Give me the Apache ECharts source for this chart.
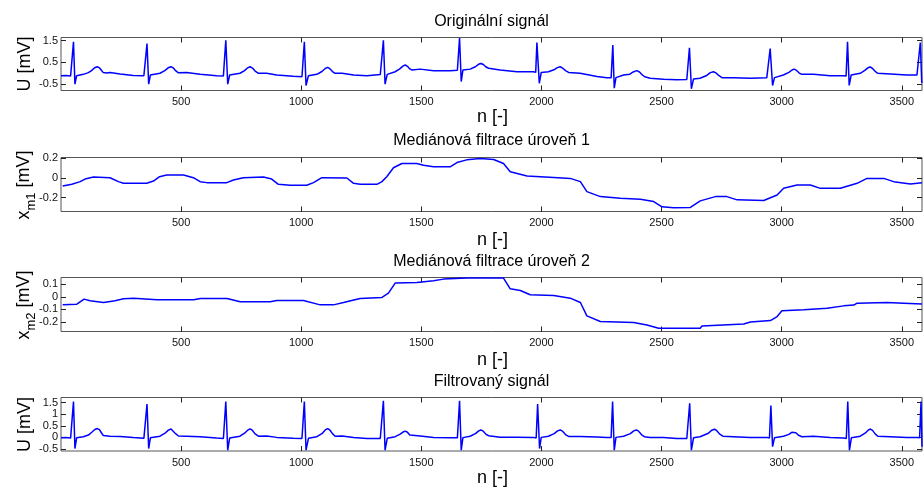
<!DOCTYPE html>
<html>
<head>
<meta charset="utf-8">
<script src="https://cdn.jsdelivr.net/npm/echarts@6/dist/echarts.min.js"></script>
<style>
html,body{margin:0;padding:0;background:#fff;}
#c{width:923px;height:487px;}
</style>
</head>
<body>
<div id="c"></div>
<script>
// ---- Data ----
const titles = ['Originální signál', 'Mediánová filtrace úroveň 1', 'Mediánová filtrace úroveň 2', 'Filtrovaný signál'];
const xLabel = 'n [-]';
const xTicks = [500, 1000, 1500, 2000, 2500, 3000, 3500];
const xRange = [0, 3584];

const yTicks1 = [-0.5, 0.5, 1.5];
const yTicks2 = [-0.2, 0, 0.2];
const yTicks3 = [-0.2, -0.1, 0, 0.1];
const yTicks4 = [-0.5, 0, 0.5, 1, 1.5];
const yRange1 = [-0.79, 1.64];
const yRange2 = [-0.341, 0.207];
const yRange3 = [-0.278, 0.156];
const yRange4 = [-0.586, 1.716];

// original ECG [n, mV]
const originalSignal = [
 [0,-0.11],[20,-0.10],[40,-0.12],[46,-0.16],[52,1.44],[58,-0.50],[65,-0.11],[93,-0.05],[114,0.03],[127,0.12],[140,0.25],[151,0.30],[160,0.25],[168,0.14],[176,0.03],[190,0.01],[204,0.03],[246,-0.03],[301,-0.10],[345,-0.11],
 [352,-0.14],[358,1.36],[365,-0.50],[372,-0.08],[412,0.0],[432,0.12],[446,0.25],[458,0.30],[467,0.25],[477,0.12],[489,0.02],[523,0.03],[579,-0.05],[648,-0.11],[676,-0.12],
 [681,-0.16],[686,1.51],[694,-0.50],[702,-0.08],[745,0.0],[764,0.12],[777,0.25],[787,0.30],[797,0.24],[808,0.10],[822,0.0],[856,0.0],[898,-0.08],[967,-0.14],[1003,-0.16],
 [1008,-0.19],[1013,1.44],[1020,-0.56],[1030,-0.11],[1065,-0.05],[1086,0.08],[1100,0.22],[1110,0.27],[1119,0.21],[1130,0.08],[1141,0.0],[1170,0.0],[1218,-0.08],[1273,-0.11],[1329,-0.06],
 [1336,-0.08],[1342,1.51],[1349,-0.50],[1358,-0.05],[1391,0.07],[1410,0.20],[1423,0.33],[1433,0.38],[1442,0.32],[1452,0.20],[1462,0.15],[1495,0.19],[1551,0.12],[1620,0.12],[1650,0.14],
 [1654,0.11],[1659,1.62],[1666,-0.38],[1673,0.15],[1703,0.19],[1725,0.30],[1738,0.41],[1748,0.45],[1758,0.40],[1768,0.30],[1780,0.23],[1828,0.15],[1898,0.07],[1967,0.07],
 [1976,0.04],[1981,1.41],[1991,-0.46],[1999,0.04],[2029,0.07],[2052,0.16],[2066,0.26],[2078,0.30],[2088,0.24],[2100,0.12],[2113,0.04],[2161,0.0],[2231,-0.15],[2272,-0.20],[2290,-0.21],
 [2292,-0.24],[2297,1.29],[2303,-0.68],[2310,-0.20],[2342,-0.08],[2368,-0.04],[2382,0.06],[2397,0.12],[2408,0.06],[2418,-0.06],[2430,-0.16],[2452,-0.23],[2508,-0.27],[2563,-0.30],[2605,-0.28],
 [2610,-0.31],[2616,1.17],[2624,-0.71],[2633,-0.26],[2660,-0.23],[2688,-0.10],[2703,0.03],[2716,0.07],[2726,0.02],[2738,-0.10],[2751,-0.20],[2799,-0.20],[2869,-0.23],[2938,-0.20],
 [2946,-0.23],[2952,1.13],[2962,-0.56],[2970,-0.20],[3007,-0.08],[3030,0.04],[3043,0.15],[3052,0.19],[3062,0.13],[3073,0.01],[3084,-0.05],[3132,-0.05],[3202,-0.11],[3257,-0.11],
 [3268,-0.13],[3274,1.44],[3281,-0.56],[3289,-0.08],[3327,0.0],[3346,0.13],[3359,0.25],[3368,0.29],[3377,0.23],[3388,0.10],[3399,0.0],[3452,-0.03],[3521,-0.08],[3563,-0.08],
 [3571,-0.11],[3577,1.41],[3583,-0.45]
];

// median filter level 1 [n, mV]
const medianLevel1 = [
 [7,-0.082],[45,-0.065],[80,-0.038],[100,-0.012],[135,0.009],[204,0.002],[239,-0.038],[260,-0.055],[357,-0.055],[385,-0.032],[410,0.012],[440,0.029],[510,0.029],
 [551,0.002],[579,-0.038],[607,-0.048],[690,-0.048],[718,-0.022],[759,0.002],[843,0.009],[877,-0.012],[905,-0.065],[954,-0.075],[1023,-0.075],[1051,-0.048],
 [1086,0.002],[1190,-0.001],[1218,-0.055],[1245,-0.065],[1315,-0.065],[1336,-0.038],[1356,0.012],[1384,0.103],[1419,0.146],[1481,0.146],[1509,0.129],[1551,0.113],
 [1620,0.113],[1648,0.156],[1689,0.183],[1745,0.197],[1801,0.187],[1842,0.146],[1870,0.062],[1940,0.019],[2051,0.005],[2120,-0.005],[2162,-0.038],[2189,-0.139],
 [2245,-0.19],[2328,-0.206],[2412,-0.216],[2467,-0.24],[2502,-0.294],[2550,-0.304],[2620,-0.30],[2661,-0.233],[2724,-0.19],[2772,-0.19],[2814,-0.223],[2925,-0.23],
 [2981,-0.173],[3008,-0.106],[3064,-0.072],[3119,-0.072],[3161,-0.106],[3244,-0.106],[3314,-0.055],[3355,-0.005],[3425,-0.005],[3466,-0.038],[3536,-0.062],[3584,-0.05]
];

// median filter level 2 (baseline) [n, mV]
const medianLevel2 = [
 [7,-0.064],[66,-0.058],[96,-0.018],[121,-0.031],[177,-0.045],[225,-0.031],[260,-0.015],[302,-0.010],[400,-0.023],[552,-0.023],[580,-0.012],[691,-0.012],
 [746,-0.039],[871,-0.039],[898,-0.029],[1009,-0.029],[1079,-0.064],[1134,-0.064],[1176,-0.045],[1245,-0.012],[1336,-0.004],[1363,0.030],[1391,0.111],
 [1481,0.116],[1551,0.130],[1592,0.143],[1689,0.151],[1842,0.151],[1870,0.065],[1912,0.052],[1953,0.017],[2051,0.012],[2120,-0.010],[2162,-0.045],
 [2189,-0.152],[2245,-0.198],[2384,-0.206],[2439,-0.225],[2488,-0.252],[2661,-0.252],[2668,-0.233],[2842,-0.217],[2870,-0.201],[2953,-0.190],[2981,-0.158],
 [3001,-0.112],[3092,-0.104],[3189,-0.091],[3258,-0.072],[3300,-0.066],[3314,-0.050],[3439,-0.045],[3508,-0.050],[3584,-0.056]
];

// filtered ECG [n, mV]
const filteredSignal = [
 [0,-0.02],[20,-0.01],[40,-0.03],[46,-0.07],[52,1.54],[58,-0.48],[65,-0.02],[93,0.03],[114,0.10],[128,0.22],[141,0.34],[151,0.38],[160,0.33],[168,0.20],[176,0.08],[204,0.05],[246,0.04],[301,-0.01],[345,-0.04],
 [352,-0.06],[358,1.43],[365,-0.48],[372,-0.02],[412,0.05],[433,0.18],[447,0.31],[458,0.36],[466,0.31],[477,0.16],[489,0.06],[523,0.05],[579,0.03],[648,-0.03],[676,-0.05],
 [681,-0.07],[686,1.54],[694,-0.55],[702,-0.03],[745,0.05],[764,0.18],[777,0.31],[787,0.37],[796,0.31],[808,0.15],[822,0.05],[856,0.06],[898,0.0],[967,-0.04],[1003,-0.05],
 [1008,-0.07],[1013,1.54],[1020,-0.55],[1030,-0.04],[1065,0.03],[1086,0.16],[1100,0.32],[1110,0.38],[1119,0.32],[1130,0.16],[1141,0.05],[1170,0.06],[1218,0.0],[1273,-0.05],[1329,-0.05],
 [1336,-0.07],[1342,1.57],[1349,-0.55],[1358,-0.04],[1391,0.03],[1410,0.13],[1424,0.23],[1433,0.27],[1442,0.22],[1452,0.10],[1460,0.03],[1495,0.06],[1551,0.0],[1620,-0.02],[1650,-0.02],
 [1654,-0.04],[1659,1.57],[1666,-0.55],[1673,-0.01],[1703,0.05],[1725,0.16],[1739,0.28],[1748,0.32],[1757,0.27],[1768,0.14],[1780,0.07],[1828,0.01],[1898,0.01],[1967,0.0],
 [1978,-0.03],[1984,1.43],[1992,-0.48],[1999,0.0],[2029,0.05],[2053,0.16],[2067,0.28],[2078,0.32],[2087,0.27],[2100,0.12],[2113,0.04],[2161,0.04],[2231,0.02],[2272,0.0],[2290,-0.01],
 [2291,-0.03],[2296,1.54],[2303,-0.55],[2310,0.0],[2342,0.05],[2370,0.16],[2384,0.28],[2395,0.32],[2404,0.27],[2416,0.12],[2428,0.03],[2452,0.0],[2508,-0.01],[2563,-0.05],[2605,-0.05],
 [2611,-0.06],[2617,1.47],[2624,-0.55],[2633,-0.02],[2660,0.03],[2695,0.18],[2709,0.31],[2720,0.35],[2729,0.30],[2742,0.14],[2755,0.05],[2799,0.03],[2869,0.0],[2938,0.0],
 [2949,-0.03],[2955,1.37],[2962,-0.40],[2970,-0.02],[3007,0.05],[3030,0.13],[3042,0.22],[3050,0.25],[3059,0.20],[3070,0.09],[3084,0.03],[3132,0.05],[3202,0.0],[3257,-0.03],
 [3269,-0.05],[3275,1.54],[3282,-0.55],[3290,-0.02],[3327,0.05],[3347,0.18],[3360,0.31],[3369,0.36],[3378,0.30],[3390,0.14],[3400,0.05],[3452,0.03],[3521,0.0],[3563,0.0],
 [3574,-0.02],[3580,1.54],[3584,-0.40]
];

// ---- Chart ----
const FONT = 'Liberation Sans, Arial, sans-serif';
const AX = '#222';
const gridsPos = [
  {top: 37.5, height: 53},
  {top: 157.5, height: 54},
  {top: 277.5, height: 54},
  {top: 397.5, height: 53.5}
];
const yTicksAll = [yTicks1, yTicks2, yTicks3, yTicks4];
const yRanges = [yRange1, yRange2, yRange3, yRange4];
const seriesData = [originalSignal, medianLevel1, medianLevel2, filteredSignal];

const grid = gridsPos.map(g => ({left: 61, right: 1, top: g.top, height: g.height,
  show: true, borderColor: '#555', borderWidth: 1}));

const fmt = v => String(v);
const xAxis = [], yAxis = [], series = [];
for (let i = 0; i < 4; i++) {
  ['bottom', 'top'].forEach((pos, k) => {
    xAxis.push({
      type: 'value', gridIndex: i, position: pos, min: xRange[0], max: xRange[1],
      axisLine: {show: false, onZero: false}, splitLine: {show: false},
      axisTick: {show: true, inside: true, length: 5, customValues: xTicks, lineStyle: {color: AX}},
      axisLabel: {show: k === 0, customValues: xTicks, formatter: fmt, color: '#111', fontSize: 11, fontFamily: FONT, margin: 6}
    });
  });
  ['left', 'right'].forEach((pos, k) => {
    yAxis.push({
      type: 'value', gridIndex: i, position: pos, min: yRanges[i][0], max: yRanges[i][1],
      axisLine: {show: false, onZero: false}, splitLine: {show: false},
      axisTick: {show: true, inside: true, length: 5, customValues: yTicksAll[i], lineStyle: {color: AX}},
      axisLabel: {show: k === 0, customValues: yTicksAll[i], formatter: fmt, color: '#111', fontSize: 11, fontFamily: FONT, margin: 3}
    });
  });
  series.push({
    type: 'line', xAxisIndex: i * 2, yAxisIndex: i * 2, data: seriesData[i],
    showSymbol: false, symbol: 'none', animation: false,
    lineStyle: {color: '#0000ff', width: 1.5}
  });
}

const titleY = [21.5, 141, 261.5, 381.5];
const nLabelY = [117, 240, 360, 478];
const graphic = [];
titleY.forEach((y, i) => graphic.push({type: 'text', x: 491.5, y: y, z: 100,
  style: {text: titles[i], fill: '#000', font: '16px ' + FONT, align: 'center', verticalAlign: 'middle'}}));
nLabelY.forEach(y => graphic.push({type: 'text', x: 492.5, y: y, z: 100,
  style: {text: xLabel, fill: '#000', font: '18px ' + FONT, align: 'center', verticalAlign: 'middle'}}));

const yLabelRich = {
  m: {fontSize: 18, fontFamily: FONT, fill: '#000', lineHeight: 18, verticalAlign: 'top'},
  s: {fontSize: 13, fontFamily: FONT, fill: '#000', lineHeight: 13, verticalAlign: 'top', padding: [10, 0, 0, 0]}
};
const yLabels = [
  '{m|U [mV]}',
  '{m|x}{s|m1}{m| [mV]}',
  '{m|x}{s|m2}{m| [mV]}',
  '{m|U [mV]}'
];
const yLabelCenters = [[25, 64], [24, 185], [24, 305], [25, 424.5]];
yLabels.forEach((t, i) => graphic.push({type: 'text', x: yLabelCenters[i][0], y: yLabelCenters[i][1],
  rotation: Math.PI / 2, z: 100,
  style: {text: t, rich: yLabelRich, fill: '#000', font: '18px ' + FONT, align: 'center', verticalAlign: 'middle'}}));

const chart = echarts.init(document.getElementById('c'), null, {renderer: 'canvas'});
chart.setOption({animation: false, backgroundColor: '#fff', grid, xAxis, yAxis, series, graphic});
</script>
</body>
</html>
